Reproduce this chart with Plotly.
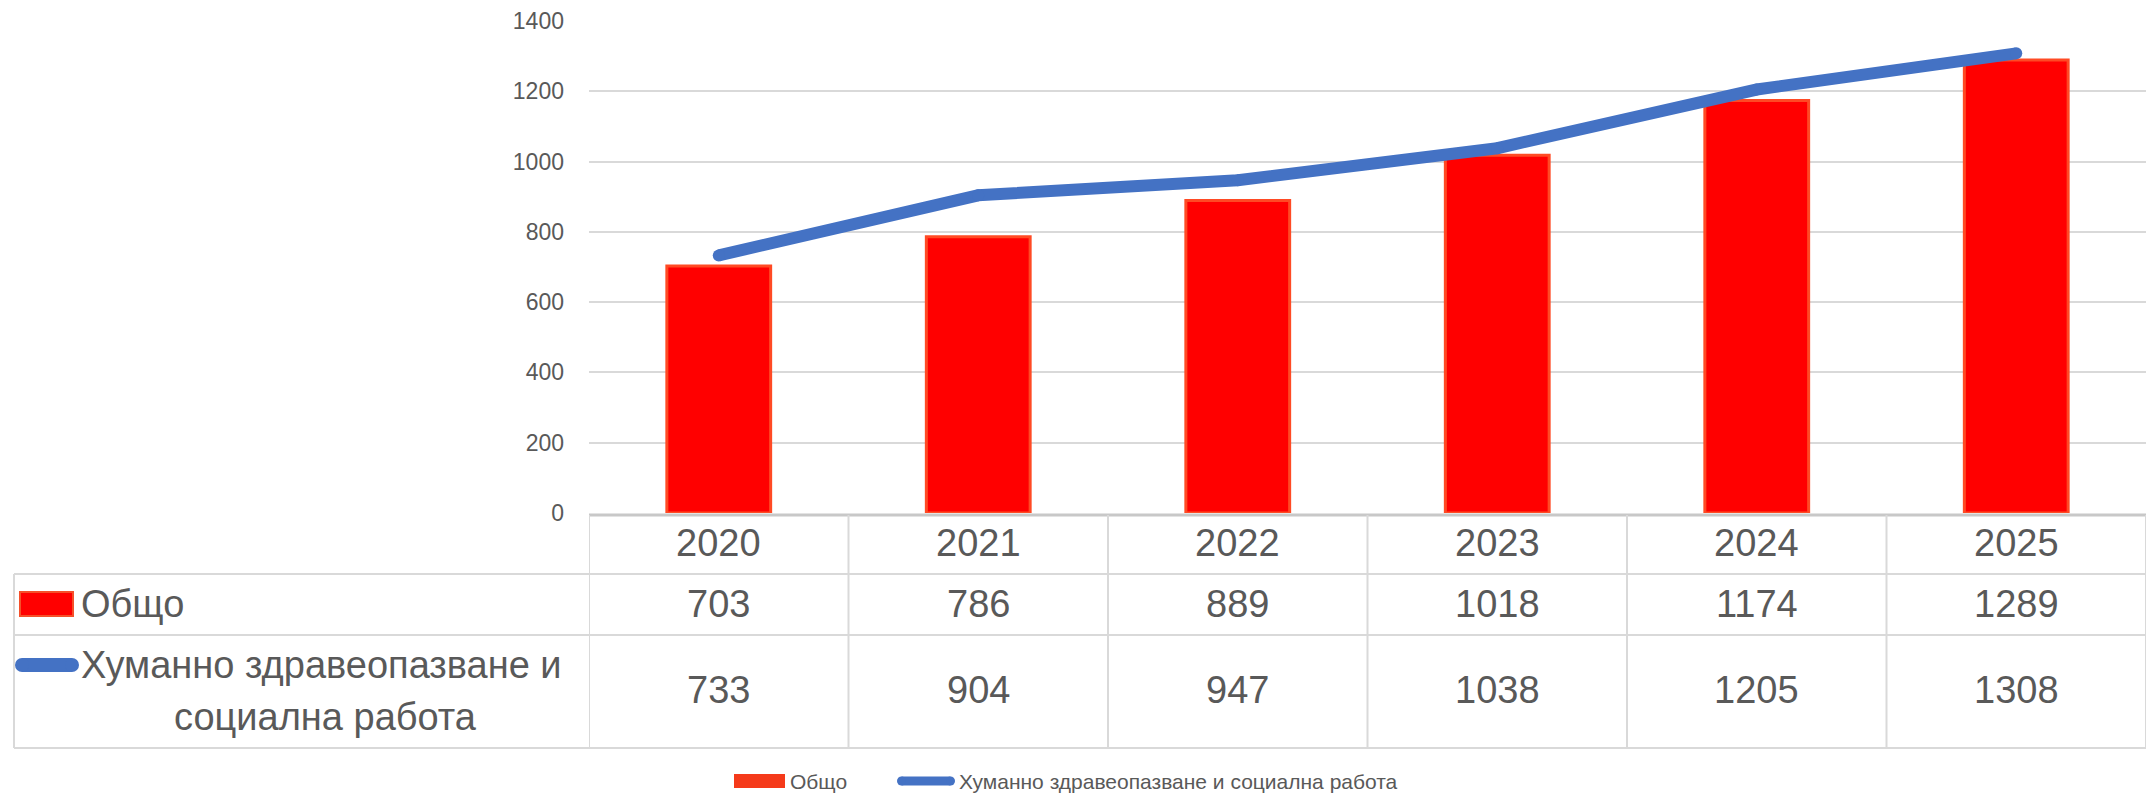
import plotly.graph_objects as go

years = ["2020", "2021", "2022", "2023", "2024", "2025"]
total = [703, 786, 889, 1018, 1174, 1289]
health = [733, 904, 947, 1038, 1205, 1308]
name_total = "Общо"
name_health = "Хуманно здравеопазване и социална работа"
name_health_l1 = "Хуманно здравеопазване и"
name_health_l2 = "социална работа"

W, H = 2148, 796
L, R, T, B = 589, 2, 21, 283
PW = W - L - R
PH = H - T - B
FONT = "Liberation Sans, Arial, sans-serif"
TXT = "#595959"
GRID = "#D9D9D9"
RED = "#FF0000"
BLUE = "#4472C4"


def px(x):
    return (x - L) / PW


def py(y):
    return (H - B - y) / PH


fig = go.Figure()
fig.add_trace(go.Bar(
    x=years, y=total, name=name_total, width=0.4,
    marker=dict(color=RED, line=dict(color="#FF4A24", width=3)),
    showlegend=False,
))
fig.add_trace(go.Scatter(
    x=years, y=health, name=name_health, mode="lines+markers",
    line=dict(color=BLUE, width=12),
    marker=dict(color=BLUE, size=12, line=dict(width=0)),
    showlegend=False,
))

shapes = []
ann = []
line_style = dict(color=GRID, width=2)

# table horizontal lines
for yy in (574, 635, 748):
    shapes.append(dict(type="line", xref="paper", yref="paper",
                       x0=px(14), x1=px(W - R), y0=py(yy), y1=py(yy), line=line_style))
# top of header row / axis line
shapes.append(dict(type="line", xref="paper", yref="paper",
                   x0=0, x1=1, y0=py(515), y1=py(515), line=dict(color="#C8C8C8", width=3)))
# vertical dividers at category boundaries
for k in range(len(years) + 1):
    shapes.append(dict(type="line", xref="x", yref="paper",
                       x0=k - 0.5, x1=k - 0.5, y0=py(515), y1=py(748), line=line_style))
shapes.append(dict(type="line", xref="paper", yref="paper",
                   x0=px(14), x1=px(14), y0=py(574), y1=py(748), line=line_style))

# header year labels and values (x = category index on the category axis)
for i, yr in enumerate(years):
    for text, yy in ((yr, 543), (str(total[i]), 604), (str(health[i]), 690)):
        ann.append(dict(x=i, xref="x", y=py(yy), yref="paper", text=text, showarrow=False,
                        xanchor="center", yanchor="middle",
                        font=dict(size=38, color=TXT, family=FONT)))

# row labels with keys
shapes.append(dict(type="rect", xref="paper", yref="paper",
                   x0=px(20), x1=px(73), y0=py(592), y1=py(616),
                   fillcolor=RED, line=dict(color="#F5502A", width=2)))
ann.append(dict(x=px(79), xref="paper", y=py(604), yref="paper", text=name_total, showarrow=False,
                xanchor="left", yanchor="middle", font=dict(size=38, color=TXT, family=FONT)))


def rounded_key(x0, x1, yc, thick, color):
    r = thick / 2
    out = [dict(type="rect", xref="paper", yref="paper",
                x0=px(x0 + r), x1=px(x1 - r), y0=py(yc + r), y1=py(yc - r),
                fillcolor=color, line=dict(width=0))]
    for cx in (x0 + r, x1 - r):
        out.append(dict(type="circle", xref="paper", yref="paper",
                        xsizemode="pixel", ysizemode="pixel",
                        xanchor=px(cx), yanchor=py(yc),
                        x0=-r, x1=r, y0=-r, y1=r,
                        fillcolor=color, line=dict(width=0)))
    return out


shapes += rounded_key(15, 79, 665, 14, BLUE)
ann.append(dict(x=px(79), xref="paper", y=py(665), yref="paper", text=name_health_l1, showarrow=False,
                xanchor="left", yanchor="middle", font=dict(size=38, color=TXT, family=FONT)))
ann.append(dict(x=px(325), xref="paper", y=py(717), yref="paper", text=name_health_l2, showarrow=False,
                xanchor="center", yanchor="middle", font=dict(size=38, color=TXT, family=FONT)))

# bottom legend
LEG_Y = 781
shapes.append(dict(type="rect", xref="paper", yref="paper",
                   x0=px(734), x1=px(785), y0=py(LEG_Y - 7), y1=py(LEG_Y + 7),
                   fillcolor="#F53A1A", line=dict(width=0)))
ann.append(dict(x=px(789), xref="paper", y=py(LEG_Y), yref="paper", text=name_total, showarrow=False,
                xanchor="left", yanchor="middle", borderpad=0,
                font=dict(size=21, color=TXT, family=FONT)))
shapes += rounded_key(897, 955, LEG_Y, 9, BLUE)
ann.append(dict(x=px(958), xref="paper", y=py(LEG_Y), yref="paper", text=name_health, showarrow=False,
                xanchor="left", yanchor="middle", borderpad=0,
                font=dict(size=21, color=TXT, family=FONT)))

fig.update_layout(
    width=W, height=H,
    margin=dict(l=L, r=R, t=T, b=B, pad=0),
    paper_bgcolor="white", plot_bgcolor="white",
    showlegend=False,
    shapes=shapes, annotations=ann,
    bargap=0.6,
)
fig.update_xaxes(type="category", range=[-0.5, 5.5], showticklabels=False, showgrid=False,
                 zeroline=False, showline=False, ticks="")
fig.update_yaxes(range=[0, 1400], dtick=200, showgrid=True, gridcolor=GRID, gridwidth=2,
                 zeroline=False, showline=False, ticks="", ticklabelstandoff=24,
                 tickfont=dict(size=23, color=TXT, family=FONT))

fig.write_html("out.html", config={"displayModeBar": False},
               post_script="document.body.style.margin='0';")
